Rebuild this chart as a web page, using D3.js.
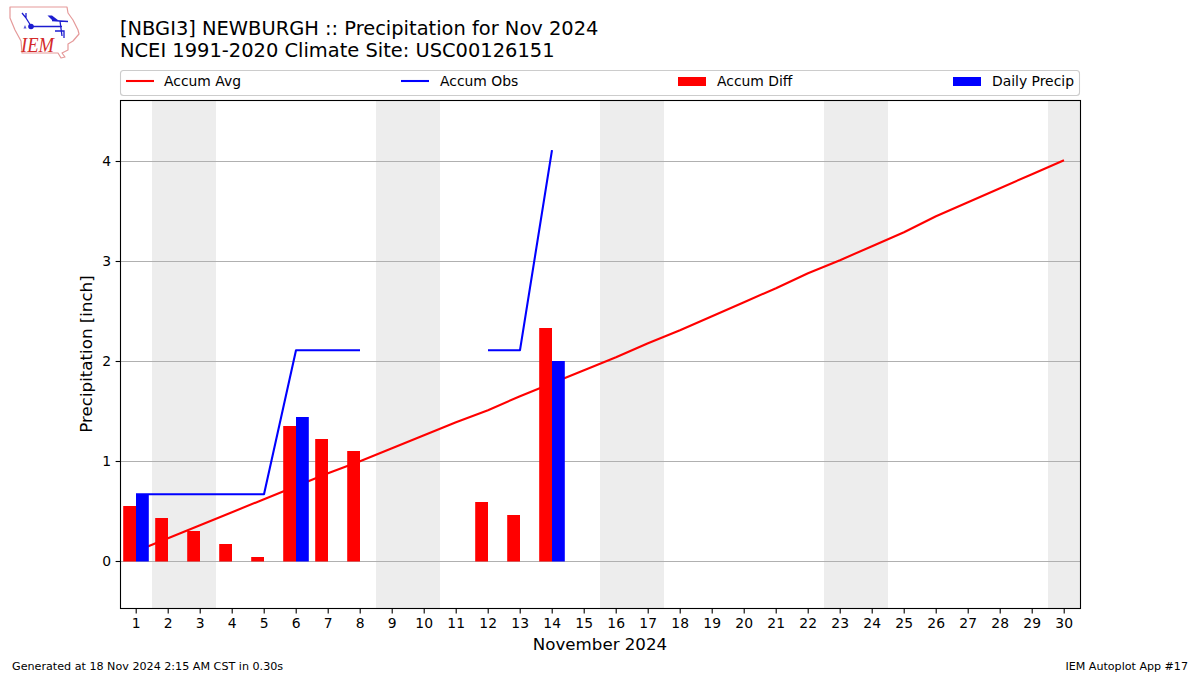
<!DOCTYPE html>
<html>
<head>
<meta charset="utf-8">
<script src="https://cdn.jsdelivr.net/npm/d3@7"></script>
<style>
  html, body { margin: 0; padding: 0; background: #fff; }
  svg { display: block; }
  text { font-family: "DejaVu Sans", sans-serif; fill: #000; }
</style>
</head>
<body>
<svg id="chart" width="1200" height="675"></svg>
<script>
// Chart data
const days = d3.range(1, 31);
const accumAvg = [0.10, 0.23, 0.36, 0.49, 0.62, 0.75, 0.88, 1.00, 1.13, 1.26, 1.39, 1.51, 1.65, 1.78, 1.91, 2.04, 2.18, 2.31, 2.45, 2.59, 2.73, 2.88, 3.01, 3.15, 3.29, 3.45, 3.59, 3.73, 3.87, 4.01];
const accumObs = [0.67, 0.67, 0.67, 0.67, 0.67, 2.11, 2.11, 2.11, null, null, null, 2.11, 2.11, 4.11];
const accumDiff = [0.55, 0.43, 0.30, 0.17, 0.04, 1.35, 1.22, 1.10, null, null, null, 0.59, 0.46, 2.33];
const dailyPrecip = [0.67, 0, 0, 0, 0, 1.44, 0, 0, null, null, null, 0, 0, 2.00];
const weekendStarts = [2, 9, 16, 23, 30];
const yTicks = [0, 1, 2, 3, 4];
const titleLines = ["[NBGI3] NEWBURGH :: Precipitation for Nov 2024", "NCEI 1991-2020 Climate Site: USC00126151"];
const legendItems = [
  { label: "Accum Avg", color: "#f00", kind: "line", x: 126, textX: 164 },
  { label: "Accum Obs", color: "#00f", kind: "line", x: 401, textX: 440 },
  { label: "Accum Diff", color: "#f00", kind: "patch", x: 678, textX: 717 },
  { label: "Daily Precip", color: "#00f", kind: "patch", x: 953, textX: 992 }
];

// Layout
const plot = { left: 120, right: 1080, top: 100, bottom: 608 };
const barWidth = 0.4;
const svg = d3.select("#chart");
const x = d3.scaleLinear().domain([0.5, 30.5]).range([plot.left, plot.right]);
const y = d3.scaleLinear().domain([-0.47, 4.61]).range([plot.bottom + 0.5, plot.top + 0.5]);

// Weekend shading
svg.append("g").selectAll("rect")
   .data(weekendStarts)
   .enter()
   .append("rect")
   .attr("x", d => x(d - 0.5))
   .attr("y", plot.top)
   .attr("width", d => Math.min(x(d + 1.5), plot.right) - x(d - 0.5))
   .attr("height", plot.bottom - plot.top)
   .attr("fill", "#ededed");

// Grid lines
svg.append("g").selectAll("line")
   .data(yTicks)
   .enter()
   .append("line")
   .attr("x1", plot.left)
   .attr("x2", plot.right)
   .attr("y1", d => y(d))
   .attr("y2", d => y(d))
   .attr("stroke", "#b0b0b0")
   .attr("stroke-width", 1.1);

// Lines go under the bars
function drawLine(values, color) {
    const line = d3.line()
        .defined(d => d != null)
        .x((d, i) => x(days[i]))
        .y(d => y(d) - 0.3);
    svg.append("path")
       .attr("d", line(values))
       .attr("fill", "none")
       .attr("stroke", color)
       .attr("stroke-width", 2.08)
       .attr("stroke-linejoin", "round");
}
drawLine(accumAvg, "#f00");
drawLine(accumObs, "#00f");

// Bars
function drawBars(values, color, offset) {
    svg.append("g").selectAll("rect")
       .data(values.map((v, i) => ({ day: days[i], v })).filter(d => d.v))
       .enter()
       .append("rect")
       .attr("x", d => x(d.day + offset))
       .attr("y", d => y(d.v) - 0.5)
       .attr("width", x(barWidth) - x(0))
       .attr("height", d => y(0) - y(d.v) + 0.5)
       .attr("fill", color);
}
drawBars(accumDiff, "#f00", -barWidth);
drawBars(dailyPrecip, "#00f", 0);

// Axes
const xAxis = d3.axisBottom(x).tickValues(days).tickFormat(d3.format("d")).tickSize(4.9).tickPadding(4.5).offset(0.2);
const yAxis = d3.axisLeft(y).tickValues(yTicks).tickFormat(d3.format("d")).tickSize(4.9).tickPadding(4.5).offset(0);
[svg.append("g").attr("transform", `translate(0,${plot.bottom + 0.5})`).call(xAxis),
 svg.append("g").attr("transform", `translate(${plot.left + 0.5},0)`).call(yAxis)].forEach(g => {
    g.select(".domain").remove();
    g.selectAll("line").attr("stroke", "#000").attr("stroke-width", 1.1);
    g.selectAll("text").style("font-family", '"DejaVu Sans"').style("font-size", "13.9px");
});

// Frame
svg.append("rect")
   .attr("x", plot.left + 0.5)
   .attr("y", plot.top + 0.5)
   .attr("width", plot.right - plot.left)
   .attr("height", plot.bottom - plot.top)
   .attr("fill", "none")
   .attr("stroke", "#000")
   .attr("stroke-width", 1.1);

// Titles and labels
svg.selectAll(".title")
   .data(titleLines)
   .enter()
   .append("text")
   .attr("class", "title")
   .attr("x", 120)
   .attr("y", (d, i) => 35 + i * 22)
   .attr("font-size", 19.44)
   .text(d => d);

svg.append("text")
   .attr("x", 600)
   .attr("y", 649.5)
   .attr("text-anchor", "middle")
   .attr("font-size", 16.67)
   .text("November 2024");

svg.append("text")
   .attr("transform", "translate(92,354) rotate(-90)")
   .attr("text-anchor", "middle")
   .attr("font-size", 16.67)
   .text("Precipitation [inch]");

svg.append("text").attr("x", 12).attr("y", 670).attr("font-size", 11.15)
   .text("Generated at 18 Nov 2024 2:15 AM CST in 0.30s");
svg.append("text").attr("x", 1188).attr("y", 670).attr("text-anchor", "end").attr("font-size", 11.1)
   .text("IEM Autoplot App #17");

// Legend
svg.append("rect")
   .attr("x", 120.5)
   .attr("y", 70.5)
   .attr("width", 959)
   .attr("height", 25)
   .attr("rx", 3)
   .attr("fill", "#fff")
   .attr("stroke", "#ccc")
   .attr("stroke-width", 1.1);

const legend = svg.append("g").selectAll("g")
   .data(legendItems)
   .enter()
   .append("g");

legend.filter(d => d.kind === "line").append("line")
   .attr("x1", d => d.x).attr("x2", d => d.x + 28).attr("y1", 81).attr("y2", 81)
   .attr("stroke", d => d.color).attr("stroke-width", 2.08);
legend.filter(d => d.kind === "patch").append("rect")
   .attr("x", d => d.x).attr("y", 77).attr("width", 28).attr("height", 9)
   .attr("fill", d => d.color);
legend.append("text")
   .attr("x", d => d.textX)
   .attr("y", 86)
   .attr("font-size", 13.9)
   .text(d => d.label);

// IEM logo
const logo = svg.append("g");
logo.append("path")
   .attr("d", "M10,7 L67,7 L68,13 L73,20 L78,30 L79,34 L73,41 L68,44 L68,50 L62,53 L65,57 L61,58 L58,53 L22,53 L21,41 L15,30 L10,18 Z")
   .attr("fill", "none")
   .attr("stroke", "#e59a9a")
   .attr("stroke-width", 1.2)
   .attr("stroke-linejoin", "round");
logo.append("path")
   .attr("d", "M31,26.5 L62,26.5 M52,20.5 L68,21.5 M60,21 L62,36 M31,26 L26,18 M22,13 L26,18 L26,13 M55,31 L64,31 L64,38")
   .attr("fill", "none")
   .attr("stroke", "#1c1cd0")
   .attr("stroke-width", 1.3);
logo.append("path")
   .attr("d", "M47.5,15.5 L52,15.5 L58.5,20.5 L53,21 Z")
   .attr("fill", "#1c1cd0");
logo.append("circle").attr("cx", 31).attr("cy", 26.5).attr("r", 2.8).attr("fill", "#1c1cd0");
logo.append("path")
   .attr("d", "M23.5,28.5 L25,25 L26.5,28.5 Z")
   .attr("fill", "#5a5ad8");
logo.append("text")
   .attr("x", 21).attr("y", 52)
   .attr("font-size", 22)
   .attr("textLength", 33)
   .attr("lengthAdjust", "spacingAndGlyphs")
   .style("font-family", '"Liberation Serif", serif')
   .style("font-style", "italic")
   .style("fill", "#d42a2a")
   .text("IEM");
</script>
</body>
</html>
